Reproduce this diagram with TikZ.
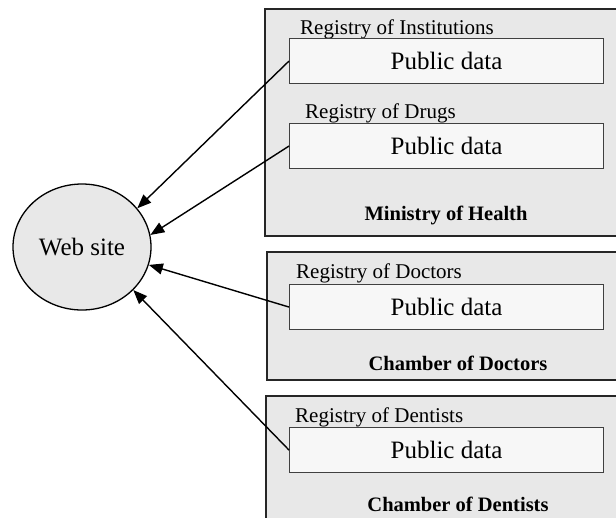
\documentclass[tikz,border=0pt]{standalone}
\usepackage{fontspec}
\setmainfont{Liberation Serif}
\usetikzlibrary{arrows.meta, positioning, shapes.geometric}
\definecolor{orggray}{HTML}{E8E8E8}
\definecolor{datagray}{HTML}{F7F7F7}

\begin{document}
\begin{tikzpicture}[
    x=1pt, y=-1pt,
    >={Triangle[length=14pt, width=11pt]},
    org/.style={rectangle, draw=black!85, line width=1.8pt, fill=orggray,
                anchor=north west, inner sep=0pt},
    pubdata/.style={rectangle, draw=black!75, line width=1.1pt, fill=datagray,
                    minimum width=314pt, minimum height=45pt, anchor=north west,
                    inner sep=0pt, font=\fontsize{25}{28}\selectfont},
    reg/.style={anchor=west, inner sep=0pt, font=\fontsize{21}{24}\selectfont},
    title/.style={inner sep=0pt, font=\fontsize{20.5}{24}\selectfont\bfseries},
    site/.style={ellipse, draw=black, line width=1.3pt, fill=orggray,
                 minimum width=138pt, minimum height=126pt, inner sep=0pt,
                 font=\fontsize{25}{28}\selectfont},
    link/.style={->, line width=1.4pt},
  ]
  \useasboundingbox (0,0) rectangle (616,517);
  \clip (0,0) rectangle (616,517);

  % Ministry of Health
  \node[org, minimum width=370pt, minimum height=227pt] (moh) at (264,8) {};
  \node[reg] (lbinst) at (300,29) {Registry of Institutions};
  \node[pubdata] (inst) at (289,38) {Public data};
  \node[reg] (lbdrug) at (305,113) {Registry of Drugs};
  \node[pubdata] (drug) at (289,123) {Public data};
  \node[title] (tmoh) at (446,215) {Ministry of Health};

  % Chamber of Doctors
  \node[org, minimum width=370pt, minimum height=128pt] (cod) at (266,251) {};
  \node[reg] (lbdoc) at (296,273) {Registry of Doctors};
  \node[pubdata] (doc) at (289,284) {Public data};
  \node[title] (tcod) at (458,363) {Chamber of Doctors};

  % Chamber of Dentists
  \node[org, minimum width=370pt, minimum height=150pt] (cdt) at (265,395) {};
  \node[reg] (lbdent) at (295,417) {Registry of Dentists};
  \node[pubdata] (dent) at (289,427) {Public data};
  \node[title] (tcdt) at (458,504) {Chamber of Dentists};

  % web site
  \node[site] (web) at (82,247) {Web site};

  \draw[link] (inst.west) -- (web.35);
  \draw[link] (drug.west) -- (web.10);
  \draw[link] (doc.west) -- (web.-15);
  \draw[link] (dent.west) -- (web.-40);
\end{tikzpicture}
\end{document}
